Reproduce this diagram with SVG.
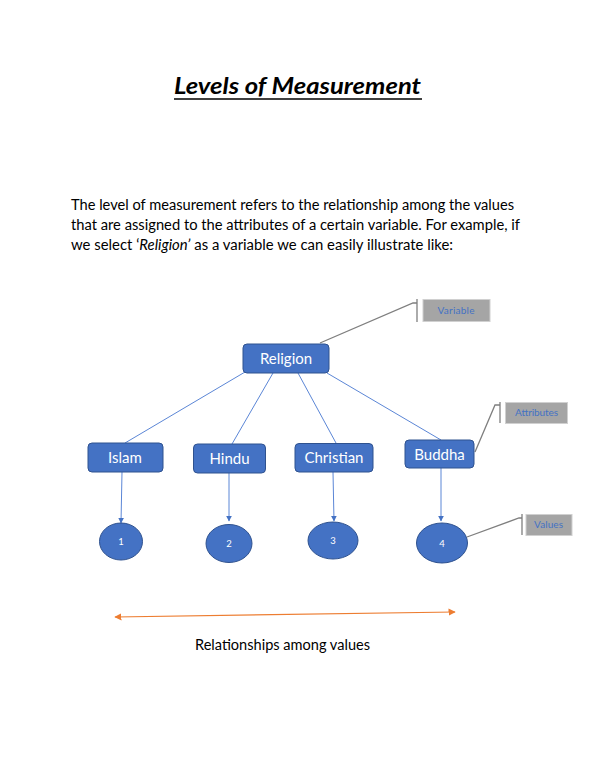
<svg xmlns="http://www.w3.org/2000/svg" width="600" height="776" viewBox="0 0 600 776">
<defs>
<style>
.txt{font-family:Lato,"Open Sans","Liberation Sans",sans-serif;fill:#000}
.node{fill:#4472c4;stroke:#2f528f;stroke-width:1}
.ntext{font-family:Lato,"Open Sans","Liberation Sans",sans-serif;fill:#fff;text-anchor:middle}
.conn{stroke:#5b86d6;stroke-width:1;fill:none}
.call{stroke:#7f7f7f;stroke-width:1.3;fill:none}
.cbox{fill:#a5a5a5;stroke:#d0d0d0;stroke-width:1}
.ctext{font-family:Lato,"Open Sans","Liberation Sans",sans-serif;fill:#4472c4;font-size:10px;text-anchor:middle}
</style>
<marker id="ab" viewBox="0 0 10 10" refX="9" refY="5" markerWidth="6" markerHeight="6" orient="auto"><path d="M0,0 L10,5 L0,10 z" fill="#4472c4"/></marker>
<marker id="ao" viewBox="0 0 10 10" refX="9" refY="5" markerWidth="6" markerHeight="6" orient="auto-start-reverse"><path d="M0,0 L10,5 L0,10 z" fill="#ed7d31"/></marker>
</defs>
<rect width="600" height="776" fill="#fff"/>
<g id="title">
<text class="txt" x="174" y="94" font-size="23" font-weight="bold" font-style="italic" textLength="247" lengthAdjust="spacingAndGlyphs">Levels of Measurement</text>
<line x1="174" y1="99" x2="422" y2="99" stroke="#000" stroke-width="1.3"/>
</g>
<g id="paragraph" font-size="14.5">
<text class="txt" x="71" y="210" textLength="443" lengthAdjust="spacingAndGlyphs">The level of measurement refers to the relationship among the values</text>
<text class="txt" x="71" y="230" textLength="449" lengthAdjust="spacingAndGlyphs">that are assigned to the attributes of a certain variable. For example, if</text>
<text class="txt" x="71" y="250" textLength="382" lengthAdjust="spacingAndGlyphs">we select ‘<tspan font-style="italic">Religion’</tspan> as a variable we can easily illustrate like:</text>
</g>
<g id="connectors">
<line class="conn" x1="245" y1="372" x2="125" y2="443"/>
<line class="conn" x1="273" y1="373" x2="232" y2="444"/>
<line class="conn" x1="298" y1="373" x2="336" y2="443"/>
<line class="conn" x1="327" y1="373" x2="441" y2="440"/>
<line class="conn" x1="122" y1="472" x2="121" y2="523" marker-end="url(#ab)"/>
<line class="conn" x1="229" y1="473" x2="229" y2="521" marker-end="url(#ab)"/>
<line class="conn" x1="333" y1="472" x2="334" y2="521" marker-end="url(#ab)"/>
<line class="conn" x1="441" y1="468" x2="441" y2="521" marker-end="url(#ab)"/>
<polyline class="call" points="320,343 413,303 417,303"/>
<line class="call" x1="417" y1="299" x2="417" y2="322"/>
<polyline class="call" points="475,452 495,405 500,405"/>
<line class="call" x1="500" y1="402" x2="500" y2="423"/>
<polyline class="call" points="467,537 519,518 522,518"/>
<line class="call" x1="522" y1="514" x2="522" y2="535"/>
<line x1="115" y1="617" x2="455" y2="612" stroke="#ed7d31" stroke-width="1.2" marker-start="url(#ao)" marker-end="url(#ao)"/>
</g>
<g id="religion">
<rect class="node" x="243" y="344" width="86" height="29" rx="4"/>
<text class="ntext" x="286" y="364" font-size="15">Religion</text>
</g>
<g id="islam">
<rect class="node" x="88" y="443" width="75" height="29" rx="4"/>
<text class="ntext" x="125" y="463" font-size="15">Islam</text>
</g>
<g id="hindu">
<rect class="node" x="193.5" y="444" width="72" height="29" rx="4"/>
<text class="ntext" x="229.5" y="464" font-size="15">Hindu</text>
</g>
<g id="christian">
<rect class="node" x="295" y="443.5" width="78" height="28.5" rx="4"/>
<text class="ntext" x="334" y="463" font-size="15">Christian</text>
</g>
<g id="buddha">
<rect class="node" x="405" y="440" width="69" height="28" rx="4"/>
<text class="ntext" x="439.5" y="460" font-size="15">Buddha</text>
</g>
<g id="v1">
<ellipse class="node" cx="121" cy="541.5" rx="21.5" ry="18.5"/>
<text class="ntext" x="121" y="545" font-size="9.5">1</text>
</g>
<g id="v2">
<ellipse class="node" cx="229" cy="543.5" rx="23" ry="19"/>
<text class="ntext" x="229" y="547" font-size="9.5">2</text>
</g>
<g id="v3">
<ellipse class="node" cx="333" cy="540.5" rx="25" ry="18.5"/>
<text class="ntext" x="333" y="544" font-size="9.5">3</text>
</g>
<g id="v4">
<ellipse class="node" cx="442" cy="543" rx="25.5" ry="20"/>
<text class="ntext" x="442" y="547" font-size="9.5">4</text>
</g>
<g id="variable-label">
<rect class="cbox" x="423" y="299.5" width="67" height="22"/>
<text class="ctext" x="456" y="314" textLength="37" lengthAdjust="spacing">Variable</text>
</g>
<g id="attributes-label">
<rect class="cbox" x="505.5" y="402.5" width="62" height="21"/>
<text class="ctext" x="536.5" y="416" textLength="43" lengthAdjust="spacing">Attributes</text>
</g>
<g id="values-label">
<rect class="cbox" x="526" y="514.5" width="46" height="21"/>
<text class="ctext" x="548.5" y="528" textLength="29" lengthAdjust="spacing">Values</text>
</g>
<g id="caption">
<text class="txt" x="195" y="650" font-size="14.5" textLength="175" lengthAdjust="spacingAndGlyphs">Relationships among values</text>
</g>
</svg>
